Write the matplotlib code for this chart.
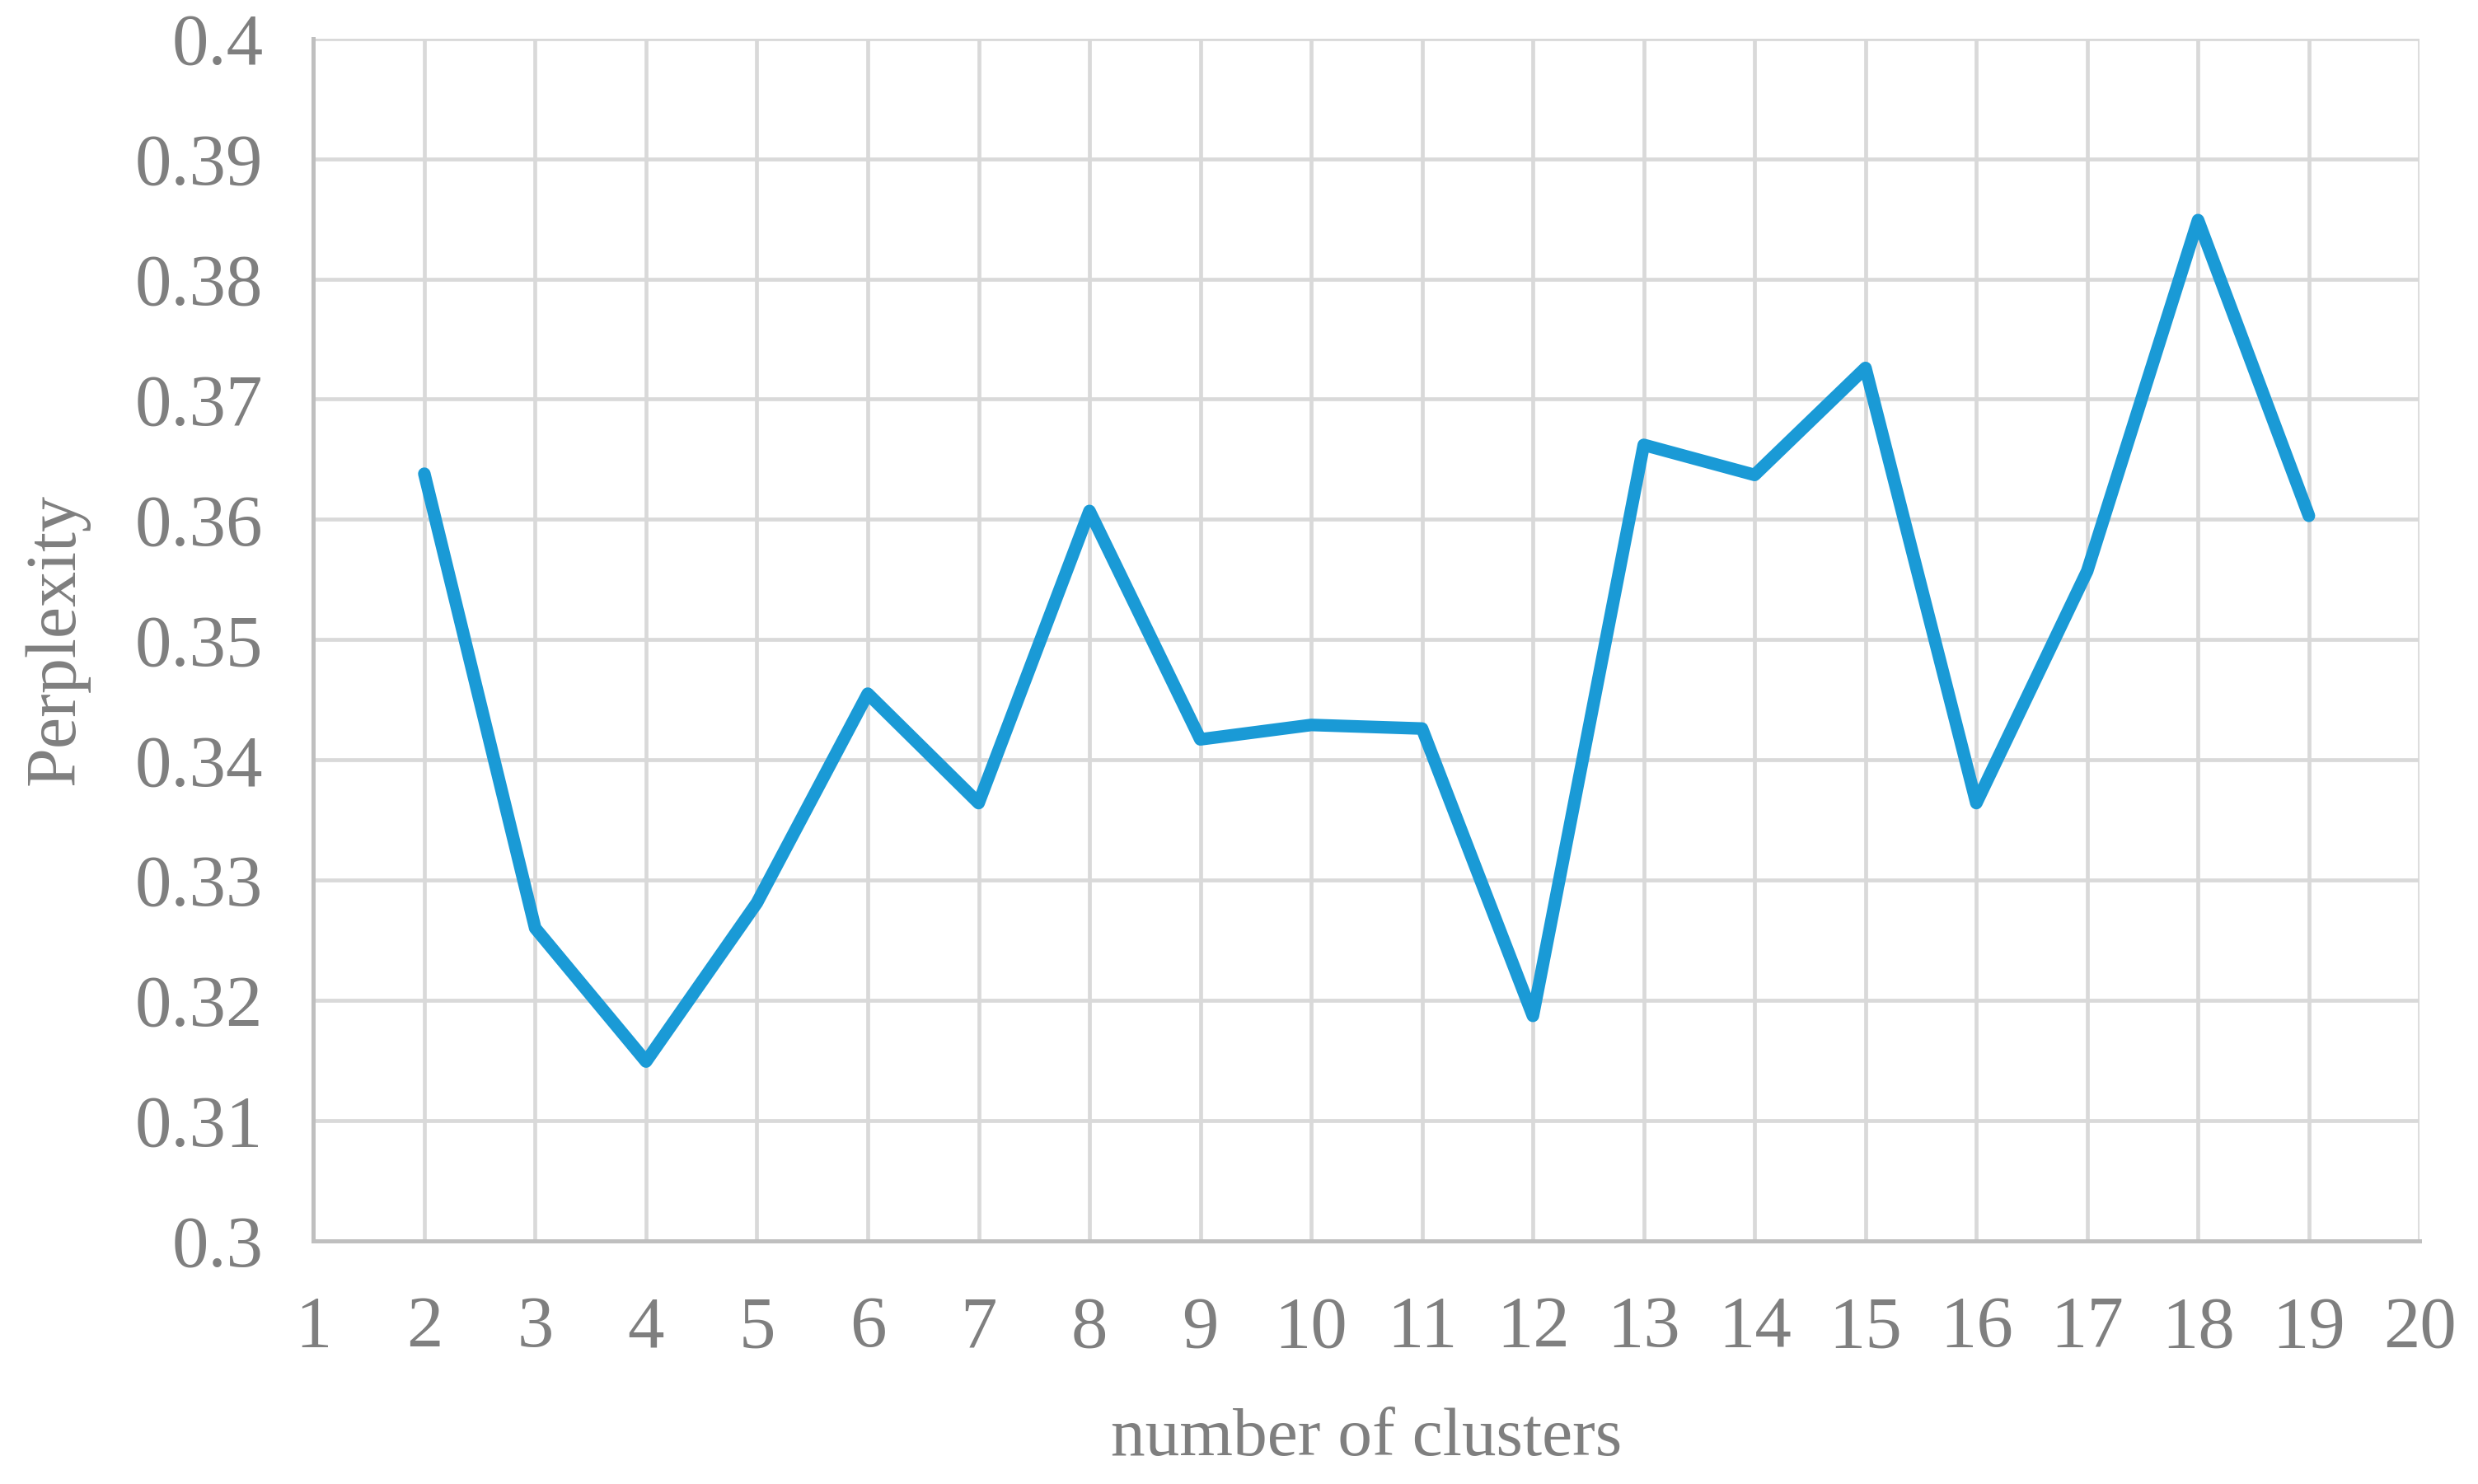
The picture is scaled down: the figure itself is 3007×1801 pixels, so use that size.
import numpy as np
import matplotlib.pyplot as plt

# --- data ---
clusters = [2, 3, 4, 5, 6, 7, 8, 9, 10, 11, 12, 13, 14, 15, 16, 17, 18, 19]
perplexity = [0.3638, 0.3260, 0.3149, 0.3281, 0.3455, 0.3364, 0.3607, 0.3417,
              0.3429, 0.3426, 0.3187, 0.3662, 0.3637, 0.3726, 0.3364, 0.3557,
              0.3849, 0.3603]
x_ticks = list(range(1, 21))
y_ticks = [0.3, 0.31, 0.32, 0.33, 0.34, 0.35, 0.36, 0.37, 0.38, 0.39, 0.4]
y_tick_labels = ['0.3', '0.31', '0.32', '0.33', '0.34', '0.35', '0.36',
                 '0.37', '0.38', '0.39', '0.4']

# --- style ---
plt.rcParams['font.family'] = ['Liberation Serif', 'DejaVu Serif']
text_gray = '#7F7F7F'
grid_gray = '#D9D9D9'
line_blue = '#1A9AD6'

fig = plt.figure(figsize=(30.07, 18.01), dpi=100)
ax = fig.add_axes([0.1265, 0.164, 0.85, 0.81])

ax.plot(clusters, perplexity, color=line_blue, linewidth=11,
        solid_joinstyle='round', solid_capstyle='round', zorder=3)

ax.set_xlim(1, 20)
ax.set_ylim(0.3, 0.4)
ax.set_xticks(x_ticks)
ax.set_yticks(y_ticks)
ax.set_yticklabels(y_tick_labels)

ax.grid(True, color=grid_gray, linewidth=3.4, zorder=0)
ax.set_axisbelow(True)
for side in ['top', 'right']:
    ax.spines[side].set_visible(False)
for side in ['left', 'bottom']:
    ax.spines[side].set_color('#BFBFBF')
    ax.spines[side].set_linewidth(3.6)

ax.tick_params(axis='both', length=0, labelsize=64, labelcolor=text_gray)
ax.tick_params(axis='x', pad=48)
ax.tick_params(axis='y', pad=44)

ax.set_xlabel('number of clusters', fontsize=60, color=text_gray, labelpad=40)
ax.set_ylabel('Perplexity', fontsize=62, color=text_gray, labelpad=40)

plt.savefig('out.png', dpi=100)
